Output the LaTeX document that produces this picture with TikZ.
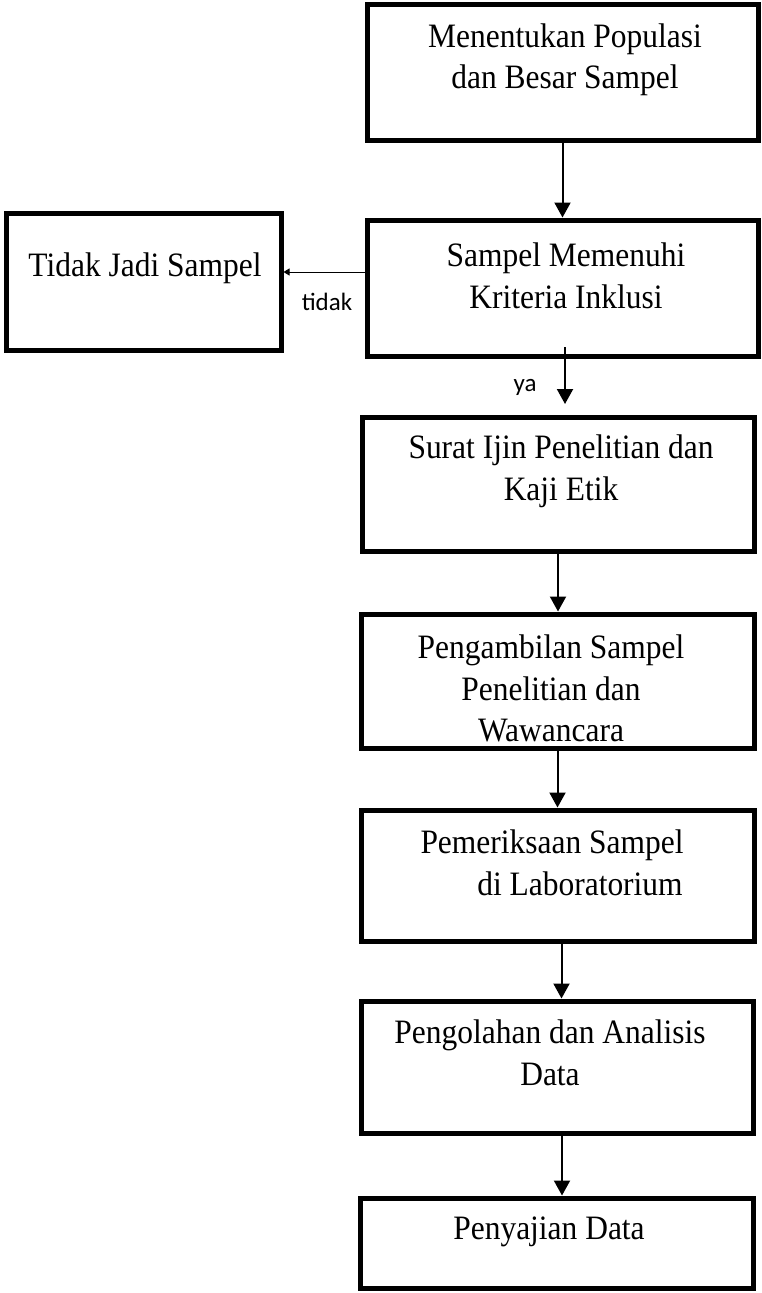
\documentclass[tikz,border=0pt]{standalone}
\usepackage{fontspec}
\setmainfont[FakeStretch=0.92]{Liberation Serif}
\newfontfamily\labfont{Carlito}
\usetikzlibrary{arrows.meta}
\tikzset{
  boxnode/.style={draw=black, line width=5pt, inner sep=0pt, rectangle},
  boxtext/.style={align=center, inner sep=0pt, font=\fontsize{34.2}{41.5}\selectfont},
  flow/.style={line width=2pt, -{Triangle[length=15pt,width=16pt]}},
  smallflow/.style={line width=1pt, -{Triangle[length=6pt,width=7pt]}},
  lab/.style={inner sep=0pt, font=\labfont\fontsize{25}{30}\selectfont}
}
\begin{document}
\begin{tikzpicture}[x=1pt,y=-1pt]
\useasboundingbox (0,0) rectangle (761,1293);
% boxes (centre, size of centre line)
\node[boxnode, minimum width=391pt, minimum height=136pt] (b1) at (562.5,72.5) {};
\node[boxnode, minimum width=391pt, minimum height=136pt] (b2) at (562.5,288) {};
\node[boxnode, minimum width=275pt, minimum height=137pt] (nb) at (143.5,281.5) {};
\node[boxnode, minimum width=392pt, minimum height=134pt] (b3) at (558,484) {};
\node[boxnode, minimum width=393pt, minimum height=134pt] (b4) at (557.5,681) {};
\node[boxnode, minimum width=393pt, minimum height=131pt] (b5) at (557.5,875.5) {};
\node[boxnode, minimum width=392pt, minimum height=132pt] (b6) at (557,1067) {};
\node[boxnode, minimum width=393pt, minimum height=90pt] (b7) at (557,1243) {};
% texts
\node[boxtext] (t1) at (565,60) {Menentukan Populasi\\dan Besar Sampel};
\node[boxtext] (t2) at (566,276) {Sampel Memenuhi\\Kriteria Inklusi};
\node[boxtext] (tn) at (145,268) {Tidak Jadi Sampel};
\node[boxtext] (t3) at (561,471.5) {Surat Ijin Penelitian dan\\Kaji Etik};
\node[boxtext] (t4) at (551,688.5) {Pengambilan Sampel\\Penelitian dan\\Wawancara};
\node[boxtext] (t5) at (552,863) {Pemeriksaan Sampel\\\hspace*{56pt}di Laboratorium};
\node[boxtext] (t6) at (550,1053) {Pengolahan dan Analisis\\Data};
\node[boxtext] (t7) at (549,1232) {Penyajian Data};
% connector labels
\node[lab] (ltidak) at (327,302) {tidak};
\node[lab] (lya) at (525,387) {ya};
% connectors
\draw[flow] (b1.south) -- (b1.south |- b2.north);
\coordinate (ya1) at (565,347);
\coordinate (ya2) at (565,404);
\draw[flow] (ya1) -- (ya2);
\coordinate (td1) at (366,272);
\draw[smallflow] (td1) -- (td1 -| nb.east);
\draw[flow] (b3.south) -- (b3.south |- b4.north);
\draw[flow] (b4.south) -- (b4.south |- b5.north);
\draw[flow] ([xshift=4pt]b5.south) -- ([xshift=4pt]b5.south |- b6.north);
\draw[flow] ([xshift=5pt]b6.south) -- ([xshift=5pt]b6.south |- b7.north);
\end{tikzpicture}
\end{document}
